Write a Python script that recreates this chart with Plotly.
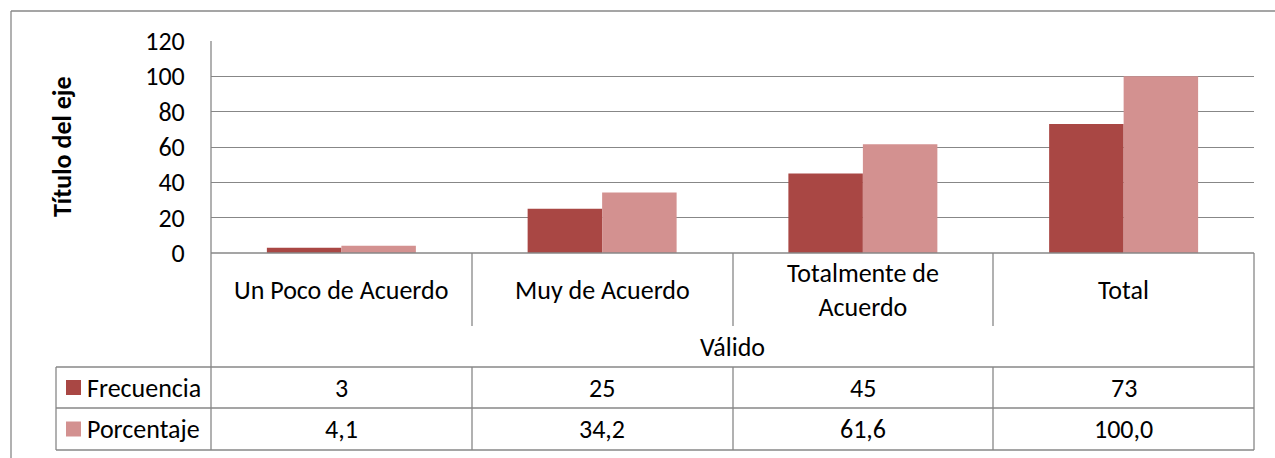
import plotly.graph_objects as go

# ---- data ----
categories = ["Un Poco de Acuerdo", "Muy de Acuerdo", "Totalmente de Acuerdo", "Total"]
category_labels = ["Un Poco de Acuerdo", "Muy de Acuerdo", "Totalmente de<br>Acuerdo", "Total"]
group_label = "Válido"
series_names = ["Frecuencia", "Porcentaje"]
frecuencia = [3, 25, 45, 73]
porcentaje = [4.1, 34.2, 61.6, 100.0]
y_title = "Título del eje"
y_ticks = [0, 20, 40, 60, 80, 100, 120]

# ---- style ----
W, H = 1275, 458
colors = ["#A94744", "#D39190"]
line_col = "#878787"
FONT = "Calibri, Carlito, Lato, sans-serif"
FS = 26

def px(x):
    return x / W

def py(y):
    return 1 - y / H

X0, X1 = 211, 1254          # plot area left/right
YT, YB = 41, 253            # plot area top/bottom
col_edges = [211, 472, 733, 993, 1254]
TBL_L = 56
ROW_CAT_END = 326
ROW1_T, ROW2_T, ROW_B = 367, 408, 450

fig = go.Figure()
for name, vals, c in zip(series_names, [frecuencia, porcentaje], colors):
    fig.add_trace(go.Bar(x=categories, y=vals, name=name, marker=dict(color=c, line=dict(width=0))))

shapes = []
def hline(y, xa, xb):
    shapes.append(dict(type="line", xref="paper", yref="paper", x0=px(xa), x1=px(xb), y0=py(y), y1=py(y),
                       line=dict(color=line_col, width=1.3)))
def vline(x, ya, yb):
    shapes.append(dict(type="line", xref="paper", yref="paper", x0=px(x), x1=px(x), y0=py(ya), y1=py(yb),
                       line=dict(color=line_col, width=1.3)))

# outer chart border (top and left visible)
hline(11, 11, W)
vline(11, 11, H)
# axis line and table
vline(X0, YT, ROW_B)
vline(X1, YB, ROW_B)
for xe in col_edges[1:-1]:
    vline(xe, YB, ROW_CAT_END)
    vline(xe, ROW1_T, ROW_B)
hline(YB, X0, X1)
for yy in [ROW1_T, ROW2_T, ROW_B]:
    hline(yy, TBL_L, X1)
vline(TBL_L, ROW1_T, ROW_B)

annotations = []
# category labels
for cat, lab in zip(categories, category_labels):
    annotations.append(dict(x=cat, xref="x", y=py((YB + ROW_CAT_END) / 2), yref="paper", text=lab,
                            showarrow=False, font=dict(family=FONT, size=FS, color="black"),
                            xanchor="center", yanchor="middle"))
annotations.append(dict(x=px((X0 + X1) / 2), xref="paper", y=py((ROW_CAT_END + ROW1_T) / 2), yref="paper",
                        text=group_label, showarrow=False, font=dict(family=FONT, size=FS, color="black"),
                        xanchor="center", yanchor="middle"))
# table values
row_texts = [[str(v) for v in frecuencia], [f"{v:.1f}".replace(".", ",") for v in porcentaje]]
row_centers = [(ROW1_T + ROW2_T) / 2, (ROW2_T + ROW_B) / 2]
for texts, yc, name, c in zip(row_texts, row_centers, series_names, colors):
    for cat, t in zip(categories, texts):
        annotations.append(dict(x=cat, xref="x", y=py(yc), yref="paper", text=t, showarrow=False,
                                font=dict(family=FONT, size=FS, color="black"),
                                xanchor="center", yanchor="middle"))
    # legend key
    shapes.append(dict(type="rect", xref="paper", yref="paper", x0=px(66), x1=px(81),
                       y0=py(yc - 7.5), y1=py(yc + 7.5), fillcolor=c, line=dict(width=0)))
    annotations.append(dict(x=px(85), xref="paper", y=py(yc), yref="paper", text=name, showarrow=False,
                            font=dict(family=FONT, size=FS, color="black"), xanchor="left", yanchor="middle"))
# y axis title
annotations.append(dict(x=px(62), xref="paper", y=py((YT + YB) / 2), yref="paper", text="<b>" + y_title + "</b>",
                        textangle=-90, showarrow=False, font=dict(family=FONT, size=FS, color="black"),
                        xanchor="center", yanchor="middle"))

fig.update_layout(
    width=W, height=H, margin=dict(l=0, r=0, t=0, b=0, autoexpand=False),
    paper_bgcolor="white", plot_bgcolor="white",
    showlegend=False, barmode="group", bargap=0.4286, bargroupgap=0,
    shapes=shapes, annotations=annotations,
    xaxis=dict(domain=[px(X0), px(X1)], showticklabels=False, showgrid=False, zeroline=False,
               showline=False, ticks="", automargin=False),
    yaxis=dict(domain=[py(YB), py(YT)], range=[0, 120], tickvals=y_ticks, showgrid=True,
               gridcolor=line_col, gridwidth=1.3, zeroline=False, showline=False,
               ticks="outside", ticklen=20, tickcolor="rgba(0,0,0,0)", automargin=False,
               tickfont=dict(family=FONT, size=FS, color="black")),
)

fig.write_html("out.html", config={"displayModeBar": False},
               post_script="document.body.style.margin='0';document.body.style.overflow='hidden';")
